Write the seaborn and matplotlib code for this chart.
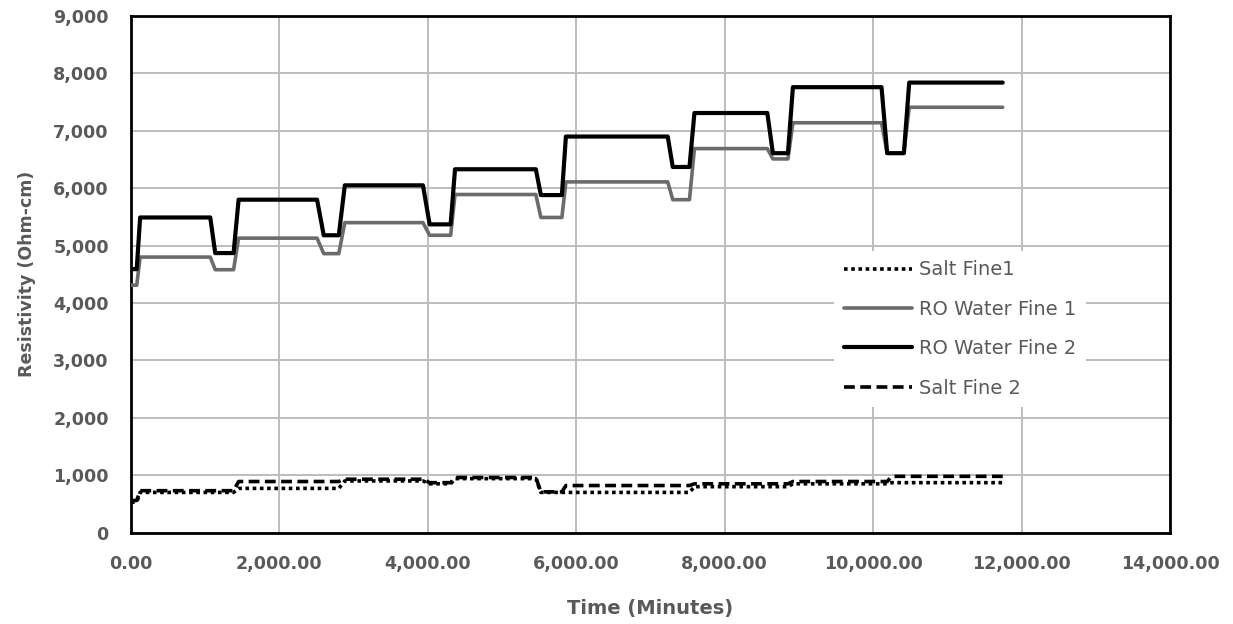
import pandas as pd
import matplotlib.pyplot as plt
import matplotlib.ticker as mticker
import seaborn as sns

# --- Data ---
ro_time = [0, 77, 123, 1068, 1135, 1382, 1450, 2507, 2597, 2800, 2881, 3934, 4024,
           4307, 4366, 5455, 5523, 5806, 5860, 7232, 7300, 7525, 7592, 8574, 8649,
           8852, 8919, 10113, 10189, 10414, 10486, 11746]
ro_fine1 = [4310, 4310, 4800, 4800, 4580, 4580, 5130, 5130, 4860, 4860, 5400, 5400, 5180,
            5180, 5890, 5890, 5490, 5490, 6110, 6110, 5800, 5800, 6690, 6690, 6510,
            6510, 7140, 7140, 6610, 6610, 7410, 7410]
ro_fine2 = [4590, 4590, 5490, 5490, 4870, 4870, 5800, 5800, 5180, 5180, 6050, 6050, 5370,
            5370, 6330, 6330, 5880, 5880, 6900, 6900, 6370, 6370, 7310, 7310, 6610,
            6610, 7760, 7760, 6610, 6610, 7840, 7840]

salt_time = [0, 77, 123, 1382, 1450, 2800, 2881, 3934, 4024, 4307, 4366, 5455, 5523,
             5806, 5860, 7525, 7592, 8852, 8919, 10189, 10250, 11746]
salt_fine1 = [530, 530, 700, 700, 770, 770, 900, 900, 850, 850, 940, 940, 700,
              700, 700, 700, 800, 800, 850, 850, 870, 870]
salt_fine2 = [560, 560, 730, 730, 890, 890, 930, 930, 870, 870, 960, 960, 710,
              710, 820, 820, 850, 850, 890, 890, 980, 980]

# --- Styling ---
sns.set_theme(style="white")
plt.rcParams["font.family"] = ["DejaVu Sans"]
TXT = "#595959"

fig = plt.figure(figsize=(12.33, 6.24), dpi=100)
ax = fig.add_axes([131 / 1233, 1 - 532.6 / 624, (1170 - 131) / 1233, (532.6 - 16) / 624])

series = [
    ("Salt Fine1", salt_time, salt_fine1, "black", 2.6, (0, (1, 1))),
    ("RO Water Fine 1", ro_time, ro_fine1, "#6b6b6b", 2.6, "-"),
    ("RO Water Fine 2", ro_time, ro_fine2, "black", 3.0, "-"),
    ("Salt Fine 2", salt_time, salt_fine2, "black", 2.6, (0, (3, 1.5))),
]
for name, t, v, col, lw, ls in series:
    d = pd.DataFrame({"Time": t, "Resistivity": v})
    sns.lineplot(data=d, x="Time", y="Resistivity", ax=ax, color=col, lw=lw,
                 linestyle=ls, label=name, sort=False, estimator=None, zorder=3)

ax.set_xlim(0, 14000)
ax.set_ylim(0, 9000)
ax.set_xticks(range(0, 14001, 2000))
ax.set_yticks(range(0, 9001, 1000))
ax.xaxis.set_major_formatter(mticker.FuncFormatter(lambda x, p: f"{x:,.2f}"))
ax.yaxis.set_major_formatter(mticker.FuncFormatter(lambda y, p: f"{y:,.0f}"))
ax.grid(True, color="#bdbdbd", lw=1.4, zorder=0)
ax.set_axisbelow(True)
for s in ax.spines.values():
    s.set_color("black")
    s.set_linewidth(2)
ax.tick_params(axis="both", length=0, labelsize=12.6, labelcolor=TXT)
ax.tick_params(axis="x", pad=16)
ax.tick_params(axis="y", pad=16)
for lbl in ax.get_xticklabels() + ax.get_yticklabels():
    lbl.set_fontweight("bold")

ax.set_xlabel("Time (Minutes)", fontsize=14, fontweight="bold", color=TXT, labelpad=19)
ax.set_ylabel("Resistivity (Ohm-cm)", fontsize=12.5, fontweight="bold", color=TXT, labelpad=12)

leg = ax.legend(loc="center", bbox_to_anchor=(960 / 1233, 1 - 329 / 624),
                bbox_transform=fig.transFigure, fontsize=14, frameon=True,
                facecolor="white", edgecolor="none", framealpha=1, fancybox=False,
                handlelength=3.5, handletextpad=0.35, labelspacing=1.05, borderpad=0.5)
for txt in leg.get_texts():
    txt.set_color(TXT)

fig.savefig("out.png", dpi=100)
